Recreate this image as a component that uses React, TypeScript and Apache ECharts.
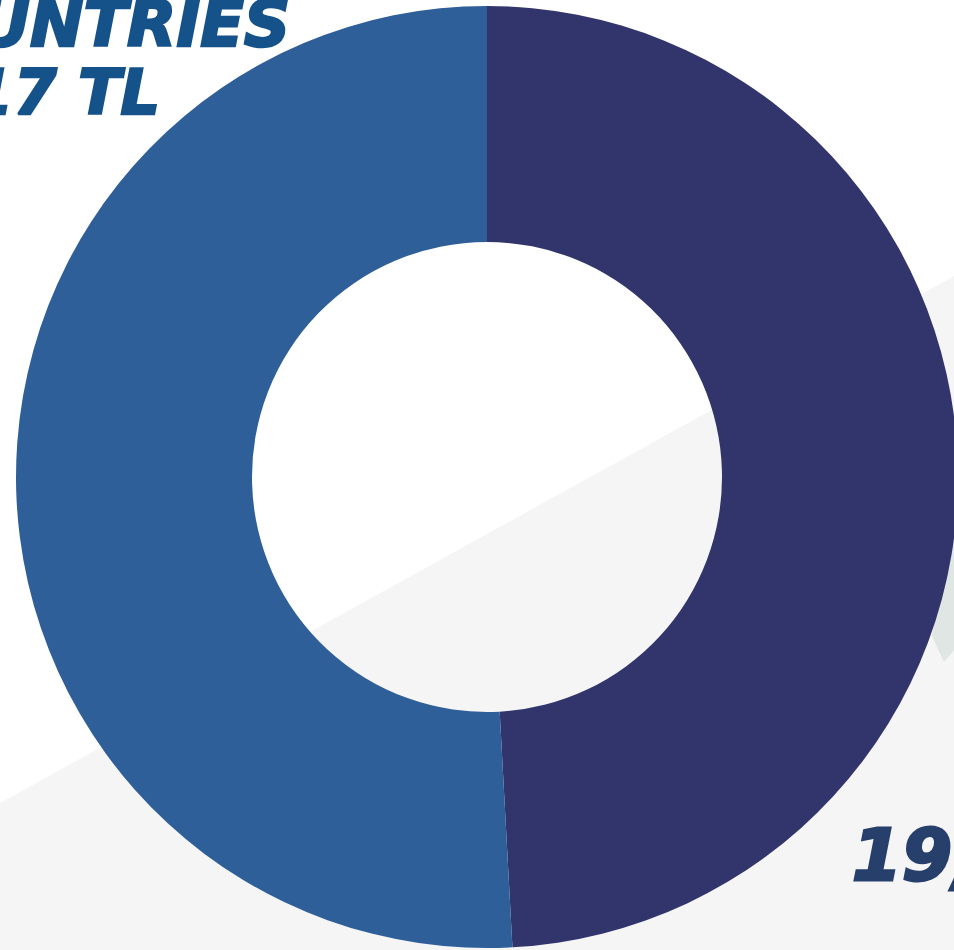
import React, { useEffect, useRef } from "react";
import * as echarts from "echarts";

const categories = ["TURKEY", "OTHER COUNTRIES"];
const values = [19050, 19717];
const colors = ["#31356b", "#2e5f98"];
const labelColors = ["#263f6b", "#15528a"];

const fmt = (v: number) => v.toLocaleString("en-US") + " TL";

export default function App() {
  const ref = useRef<HTMLDivElement>(null);
  useEffect(() => {
    document.body.style.margin = "0";
    const chart = echarts.init(ref.current!, null, { renderer: "svg" });
    const font = "'DejaVu Sans', sans-serif";
    chart.setOption({
      animation: false,
      backgroundColor: "#ffffff",
      graphic: [
        {
          type: "polygon",
          z: 0,
          shape: { points: [[0, 803], [954, 276], [954, 950], [0, 950]] },
          style: { fill: "#f5f5f5" },
        },
        {
          type: "polygon",
          z: 0,
          shape: { points: [[954, 520], [954, 650], [944, 662], [932, 636]] },
          style: { fill: "#dfe6e4" },
        },
        {
          type: "text",
          z: 10,
          x: 290,
          y: -8,
          style: {
            text: categories[1].split(" ")[1],
            fill: labelColors[1],
            stroke: labelColors[1],
            lineWidth: 2.5,
            font: `italic bold 64px ${font}`,
            textAlign: "right",
            textVerticalAlign: "top",
          },
        },
        {
          type: "text",
          z: 10,
          x: 160,
          y: 61,
          style: {
            text: fmt(values[1]),
            fill: labelColors[1],
            stroke: labelColors[1],
            lineWidth: 2.5,
            font: `italic bold 62px ${font}`,
            textAlign: "right",
            textVerticalAlign: "top",
          },
        },
        {
          type: "text",
          z: 10,
          x: 852,
          y: 819,
          style: {
            text: fmt(values[0]),
            fill: labelColors[0],
            stroke: labelColors[0],
            lineWidth: 3,
            font: `italic bold 72px ${font}`,
            textAlign: "left",
            textVerticalAlign: "top",
          },
        },
      ],
      series: [
        {
          type: "pie",
          z: 2,
          center: [487, 477],
          radius: [235, 471],
          startAngle: 90,
          clockwise: true,
          silent: true,
          label: { show: false },
          labelLine: { show: false },
          itemStyle: { borderWidth: 0 },
          data: categories.map((c, i) => ({
            name: c,
            value: values[i],
            itemStyle: { color: colors[i] },
          })),
        },
      ],
    });
    return () => chart.dispose();
  }, []);
  return <div ref={ref} style={{ width: 954, height: 950 }} />;
}
